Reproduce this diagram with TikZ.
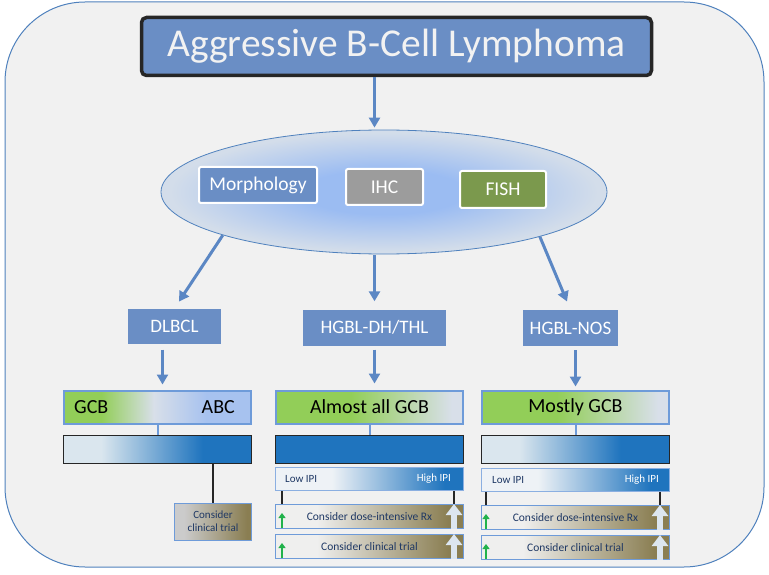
\documentclass[tikz,border=0pt]{standalone}
\usepackage{fontspec}
\setmainfont{Carlito}
\usepackage{xcolor}
\usetikzlibrary{
    positioning,
    shapes.geometric,
    arrows.meta,
    calc
}

\definecolor{framefill}{HTML}{F1F1F1}
\definecolor{frameline}{HTML}{4F81BD}
\definecolor{boxblue}{HTML}{6A8EC5}
\definecolor{arrowblue}{HTML}{5B87C4}
\definecolor{ihcgray}{HTML}{9C9C9C}
\definecolor{fishgreen}{HTML}{7B994D}
\definecolor{gcbgreen}{HTML}{92CE58}
\definecolor{palegray}{HTML}{D8DFE9}
\definecolor{abcblue}{HTML}{A7C2EF}
\definecolor{barblue}{HTML}{1F74BE}
\definecolor{barpale}{HTML}{DAE6EE}
\definecolor{ipiwhite}{HTML}{EEF2F6}
\definecolor{considerwhite}{HTML}{EFEFEE}
\definecolor{considergray}{HTML}{CBCBCB}
\definecolor{olive}{HTML}{8A7E52}
\definecolor{navytext}{HTML}{1F3864}
\definecolor{uparrow}{HTML}{21B24B}
\definecolor{bigarrow}{HTML}{DCE6F0}
\definecolor{barline}{HTML}{6E9BD9}
\definecolor{ellipsein}{HTML}{9BBCF2}
\definecolor{ellipseout}{HTML}{D3DDEA}

% shadings for the bars
\pgfdeclarehorizontalshading{gcbabc}{100bp}{color(0bp)=(gcbgreen); color(35bp)=(gcbgreen); color(49bp)=(palegray); color(63bp)=(abcblue); color(100bp)=(abcblue)}
\pgfdeclarehorizontalshading{mostgcb}{100bp}{color(0bp)=(gcbgreen); color(45bp)=(gcbgreen); color(72bp)=(palegray); color(100bp)=(palegray)}
\pgfdeclarehorizontalshading{paleblue}{100bp}{color(0bp)=(barpale); color(35bp)=(barpale); color(62bp)=(barblue); color(100bp)=(barblue)}
\pgfdeclarehorizontalshading{ipi}{100bp}{color(0bp)=(ipiwhite); color(40bp)=(ipiwhite); color(70bp)=(barblue); color(100bp)=(barblue)}
\pgfdeclarehorizontalshading{consider}{100bp}{color(0bp)=(considerwhite); color(36bp)=(considerwhite); color(71bp)=(olive); color(100bp)=(olive)}
\pgfdeclarehorizontalshading{trialgray}{100bp}{color(0bp)=(considergray); color(31bp)=(considergray); color(72bp)=(olive); color(100bp)=(olive)}
\pgfdeclareradialshading{dxglow}{\pgfpoint{0bp}{0bp}}{color(0bp)=(ellipsein); color(9bp)=(ellipsein); color(24bp)=(ellipseout); color(50bp)=(ellipseout)}

\tikzset{
  flow/.style={-{Triangle[length=10pt,width=11pt]}, line width=3pt, draw=arrowblue},
  testbox/.style={draw=white, line width=2pt, rounded corners=2pt, text=white,
    font=\fontsize{19.5}{22}\selectfont, minimum height=36pt, inner sep=0pt},
  typebox/.style={fill=boxblue, text=white, font=\fontsize{19}{22}\selectfont,
    minimum height=35pt, inner sep=0pt},
  cellbar/.style={draw=barline, line width=2pt, minimum width=187pt,
    minimum height=33pt, inner sep=0pt, font=\fontsize{20}{24}\selectfont},
  bluebar/.style={draw=black!85, line width=1pt, minimum width=188pt,
    minimum height=28pt, inner sep=0pt},
  ipibar/.style={shading=ipi, draw=barline!80, line width=1pt,
    minimum width=188pt, minimum height=23.5pt, inner sep=0pt},
  considerbox/.style={shading=consider, draw=barline, line width=1pt,
    minimum width=188pt, minimum height=24pt, inner sep=0pt,
    text=navytext, font=\fontsize{11.5}{13}\selectfont},
  smalltext/.style={font=\fontsize{11}{13}\selectfont, inner sep=0pt},
  stub/.style={line width=2pt, draw=barline},
  tick/.style={line width=1.2pt, draw=black!85},
  greenup/.style={-{Triangle[length=5pt,width=7pt]}, line width=1.8pt, draw=uparrow},
  paleup/.style={-{Triangle[length=11pt,width=16pt]}, line width=6pt, draw=bigarrow}
}

\begin{document}
\begin{tikzpicture}[x=1pt, y=-1pt]
\useasboundingbox (0,0) rectangle (769,575);

% frame
\draw[fill=framefill, draw=frameline, line width=1pt, rounded corners=80pt]
  (5,2) rectangle (764,567);

% title and work-up
\node[fill=boxblue, draw=black!85, line width=3.5pt, rounded corners=5pt,
  minimum width=510pt, minimum height=58pt, text=white!95!black,
  font=\fontsize{39.5}{44}\selectfont] (title) at (396.5,46.5) {Aggressive B-Cell Lymphoma};

\node[ellipse, draw=frameline, line width=0.8pt, shading=dxglow,
  minimum width=446pt, minimum height=124pt] (dx) at (384,192) {};
\node[testbox, fill=boxblue, minimum width=118pt] (morph) at (258,185) {Morphology};
\node[testbox, fill=ihcgray, minimum width=77pt] (ihc) at (384.5,187) {IHC};
\node[testbox, fill=fishgreen, minimum width=86pt, minimum height=37pt] (fish) at (503,189.5) {FISH};

\draw[flow, shorten >=2pt] ([xshift=-22pt]title.south) -- ([xshift=-22pt]title.south |- dx.north);

% subtypes
\node[typebox, minimum width=93pt] (dlbcl) at (174.5,326) {DLBCL};
\node[typebox, minimum width=143pt, minimum height=36pt] (dhthl) at (374.5,327.5) {HGBL-DH/THL};
\node[typebox, minimum width=95pt, minimum height=36pt] (nos) at (570.5,328) {HGBL-NOS};

\draw[flow, shorten >=8pt] (dx.195) -- (dlbcl.north);
\draw[flow, shorten <=1pt, shorten >=8pt] (dx.south -| dhthl.north) -- (dhthl.north);
\draw[flow, shorten >=9pt] (dx.344) -- (nos.north);

% cell of origin
\node[cellbar, shading=gcbabc] (gcbL) at (157.5,407) {};
\node[anchor=west, inner sep=0pt, font=\fontsize{20}{24}\selectfont] (gcbtext) at ([xshift=11pt]gcbL.west) {GCB};
\node[anchor=east, inner sep=0pt, font=\fontsize{20}{24}\selectfont] (abctext) at ([xshift=-17pt]gcbL.east) {ABC};
\node[cellbar, shading=mostgcb] (gcbM) at (369.5,407) {Almost all GCB};
\node[cellbar, shading=mostgcb] (gcbR) at (575.5,407) {Mostly GCB};

\draw[flow, shorten <=6pt, shorten >=5pt] ([xshift=-12pt]dlbcl.south) -- ([xshift=-12pt]dlbcl.south |- gcbL.north);
\draw[flow, shorten <=4pt, shorten >=6pt] (dhthl.south) -- (dhthl.south |- gcbM.north);
\draw[flow, shorten <=4pt, shorten >=3pt] (gcbR.north |- nos.south) -- (gcbR.north);

% blue bars
\node[bluebar, shading=paleblue, below=10pt of gcbL] (blueL) {};
\node[bluebar, fill=barblue, below=10pt of gcbM] (blueM) {};
\node[bluebar, shading=paleblue, below=10pt of gcbR] (blueR) {};
\draw[stub] (gcbL.south) -- (blueL.north);
\draw[stub] (gcbM.south) -- (blueM.north);
\draw[stub] (gcbR.south) -- (blueR.north);

% DLBCL
\node[shading=trialgray, draw=barline, line width=1pt, minimum width=77pt,
  minimum height=37pt, inner sep=0pt, align=center, text=navytext,
  font=\fontsize{11}{13}\selectfont] (trialL) at (213,521.5) {Consider\\clinical trial};
\draw[tick] (trialL.north) -- (trialL.north |- blueL.south);

% HGBL-DH/THL
\node[ipibar, below=3pt of blueM] (ipiM) {};
\node[smalltext, text=navytext, anchor=west] (lowM) at ([xshift=10pt]ipiM.west) {Low IPI};
\node[smalltext, text=white, anchor=east] (highM) at ([xshift=-13pt]ipiM.east) {High IPI};
\node[considerbox, below=13pt of ipiM] (doseM) {Consider dose-intensive Rx};
\node[considerbox, below=5pt of doseM] (trialM) {Consider clinical trial};
\draw[tick] ([xshift=7pt]ipiM.south west) -- ([xshift=7pt]ipiM.south west |- doseM.north);
\draw[tick] ([xshift=-10pt]ipiM.south east) -- ([xshift=-10pt]ipiM.south east |- doseM.north);

% HGBL-NOS
\node[ipibar, below=4pt of blueR] (ipiR) {};
\node[smalltext, text=navytext, anchor=west] (lowR) at ([xshift=11pt]ipiR.west) {Low IPI};
\node[smalltext, text=white, anchor=east] (highR) at ([xshift=-11pt]ipiR.east) {High IPI};
\node[considerbox, below=13pt of ipiR] (doseR) {Consider dose-intensive Rx};
\node[considerbox, below=5pt of doseR] (trialR) {Consider clinical trial};
\draw[tick] ([xshift=5pt]ipiR.south west) -- ([xshift=5pt]ipiR.south west |- doseR.north);
\draw[tick] ([xshift=-10pt]ipiR.south east) -- ([xshift=-10pt]ipiR.south east |- doseR.north);

% up arrows in the boxes
\foreach \cell/\dx in {doseM/7, trialM/7, doseR/5, trialR/5} {
  \draw[greenup] ([xshift=\dx pt, yshift=1pt]\cell.south west) -- ([xshift=\dx pt, yshift=-9pt]\cell.north west);
  \draw[paleup] ([xshift=-10pt, yshift=0.5pt]\cell.south east) -- ([xshift=-10pt]\cell.north east);
}
\end{tikzpicture}
\end{document}
